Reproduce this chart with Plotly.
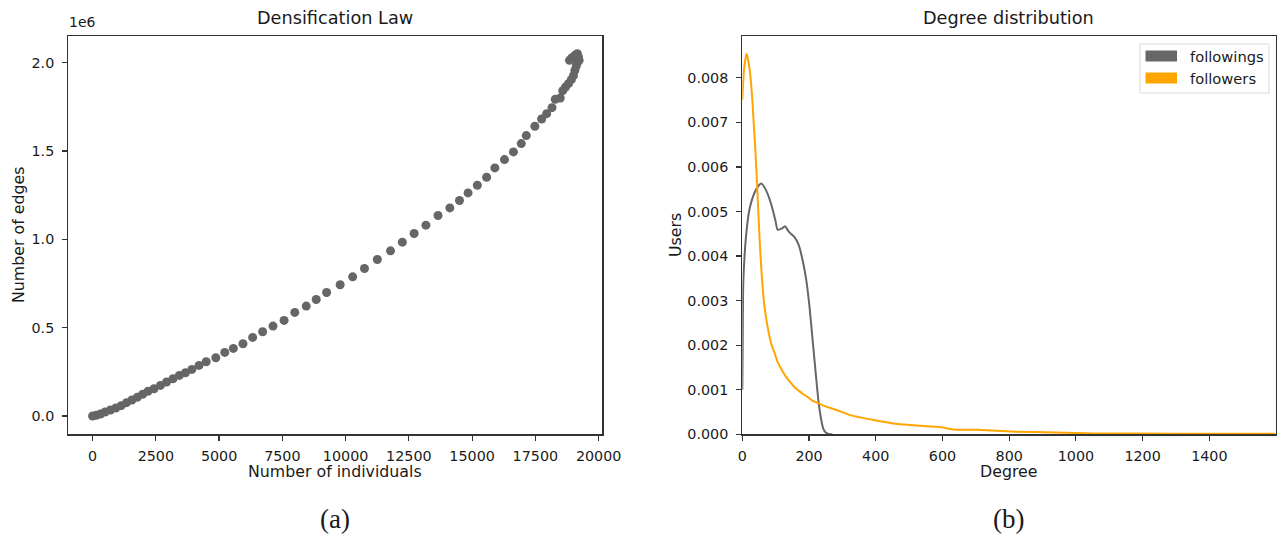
import plotly.graph_objects as go

# ---------------- data ----------------
individuals = [0, 141, 311, 494, 706, 918, 1130, 1341, 1553, 1765,
               1977, 2189, 2429, 2683, 2923, 3177, 3431, 3671, 3925, 4208,
               4490, 4871, 5224, 5563, 5944, 6326, 6721, 7131, 7568, 7992,
               8444, 8839, 9249, 9785, 10279, 10745, 11254, 11776, 12242, 12708,
               13174, 13654, 14120, 14501, 14840, 15207, 15574, 15899, 16280, 16633,
               16944, 17142, 17481, 17749, 17947, 18158, 18285, 18483, 18582, 18695,
               18808, 18921, 19006, 19062, 19118, 19175, 19203, 19161, 18850, 19231,
               19062, 18949]
edges = [0, 3770, 11310, 22620, 33930, 45240, 58440, 75400, 90480, 105560,
         122530, 139490, 154570, 173420, 192270, 211120, 229970, 245050, 263900, 286520,
         307260, 329880, 360040, 382660, 409050, 444860, 476910, 508950, 541000, 586240,
         622050, 659750, 699340, 742690, 787930, 835060, 885950, 934960, 983970, 1032980,
         1080110, 1134770, 1178130, 1219600, 1262950, 1306310, 1351550, 1404330, 1451450, 1494810,
         1541930, 1587170, 1639950, 1681420, 1711580, 1745510, 1792640, 1800180, 1841650, 1862380,
         1881230, 1903850, 1926470, 1956630, 1981140, 2003760, 2032030, 2050880, 2013180, 2013180,
         2041460, 2028270]

followings_deg = [0, 1, 3, 11, 21, 36, 51, 57, 71, 86, 99, 106, 119, 128, 139, 156, 169,
                  181, 191, 201, 211, 221, 229, 236, 243, 250, 258, 270]
followings_den = [0.0010, 0.0018, 0.0034, 0.00443, 0.00503, 0.00541, 0.0056, 0.00563, 0.00548,
                  0.00518, 0.00481, 0.00459, 0.00462, 0.00467, 0.00455, 0.00443, 0.00425,
                  0.0039, 0.0035, 0.0029, 0.0021, 0.0013, 0.0007, 0.00035, 0.00012,
                  0.00004, 0.00001, 0.0]

followers_deg = [0, 6, 13, 22, 30, 34, 39, 45, 51, 58, 66, 75, 86, 98, 106, 122, 131, 146,
                 156, 169, 181, 199, 211, 228, 241, 281, 323, 394, 465, 536, 595, 631, 702,
                 820, 938, 1057, 1293, 1599]
followers_den = [0.00751, 0.00825, 0.00854, 0.00819, 0.00751, 0.0070, 0.0064, 0.0055, 0.0045,
                 0.0036, 0.0029, 0.00245, 0.00205, 0.0018, 0.00162, 0.0014, 0.00129, 0.00115,
                 0.00106, 0.00098, 0.00091, 0.00082, 0.00075, 0.0007, 0.00065, 0.00055,
                 0.00043, 0.00032, 0.00023, 0.00019, 0.00016, 0.00011, 0.0001,
                 0.00006, 0.00004, 0.00002, 0.000015, 0.00001]

left_xticks = [0, 2500, 5000, 7500, 10000, 12500, 15000, 17500, 20000]
left_xticktext = ["0", "2500", "5000", "7500", "10000", "12500", "15000", "17500", "20000"]
left_yticks = [0, 500000, 1000000, 1500000, 2000000]
left_yticktext = ["0.0", "0.5", "1.0", "1.5", "2.0"]
right_xticks = [0, 200, 400, 600, 800, 1000, 1200, 1400]
right_yticks = [0, 0.001, 0.002, 0.003, 0.004, 0.005, 0.006, 0.007, 0.008]

series_names = ["followings", "followers"]
GREY = "#666666"
ORANGE = "#FFA500"

W, H = 1284, 534
def px(x):
    return x / W
def py(y):
    return 1 - y / H

FONT = "DejaVu Sans"
TXT = "#1a1a1a"
AX = "#333333"

fig = go.Figure()
fig.add_trace(go.Scatter(x=individuals, y=edges, mode="markers",
                         marker=dict(color=GREY, size=9, line=dict(width=0)),
                         xaxis="x", yaxis="y", showlegend=False))
fig.add_trace(go.Scatter(x=followings_deg, y=followings_den, mode="lines",
                         line=dict(color=GREY, width=2, shape="spline", smoothing=0.6),
                         xaxis="x2", yaxis="y2", name=series_names[0], showlegend=False))
fig.add_trace(go.Scatter(x=followers_deg, y=followers_den, mode="lines",
                         line=dict(color=ORANGE, width=2, shape="spline", smoothing=0.6),
                         xaxis="x2", yaxis="y2", name=series_names[1], showlegend=False))

axis_common = dict(showline=True, mirror=True, linecolor=AX, linewidth=1.2,
                   ticks="outside", ticklen=5, tickwidth=1.2, tickcolor=AX,
                   showgrid=False, zeroline=False, automargin=False,
                   tickfont=dict(family=FONT, size=14.3, color=TXT))

yd = [py(434.3), py(36)]
fig.update_layout(
    width=W, height=H, margin=dict(l=0, r=0, t=0, b=0, pad=0, autoexpand=False),
    paper_bgcolor="white", plot_bgcolor="white", hovermode=False,
    xaxis=dict(domain=[px(68.3), px(602.3)], range=[-960, 20146],
               tickvals=left_xticks, ticktext=left_xticktext, anchor="y",
               ticklabelstandoff=3, **axis_common),
    yaxis=dict(domain=yd, range=[-103500, 2151000], tickvals=left_yticks,
               ticktext=left_yticktext, anchor="x", ticklabelstandoff=5, **axis_common),
    xaxis2=dict(domain=[px(742.3), px(1275.7)], range=[0, 1599],
                tickvals=right_xticks, anchor="y2", ticklabelstandoff=3, **axis_common),
    yaxis2=dict(domain=yd, range=[0, 0.00894], tickvals=right_yticks,
                tickformat=".3f", anchor="x2", ticklabelstandoff=5, **axis_common),
)

ann = []
def text(t, x, y, size=14, family=FONT, xanchor="center", yanchor="middle", angle=0):
    ann.append(dict(text=t, x=px(x), y=py(y), xref="paper", yref="paper",
                    showarrow=False, xanchor=xanchor, yanchor=yanchor, textangle=angle,
                    font=dict(family=family, size=size, color=TXT)))

text("Densification Law", 335, 18, size=17.7)
text("Degree distribution", 1009, 18, size=17.7)
text("1e6", 67, 32, size=14, xanchor="left", yanchor="bottom")
text("Number of individuals", 335, 471, size=15.8)
text("Degree", 1009, 471, size=15.8)
text("Number of edges", 18, 235, size=15.8, angle=-90)
text("Users", 675, 235, size=15.8, angle=-90)
text("(a)", 335, 519, size=27, family="Liberation Serif")
text("(b)", 1009, 519, size=27, family="Liberation Serif")

# legend (manual, patch style)
shapes = [dict(type="rect", xref="paper", yref="paper",
               x0=px(1140), x1=px(1269), y0=py(93), y1=py(44),
               line=dict(color="#d9d9d9", width=1), fillcolor="rgba(255,255,255,0.8)")]
for i, (name, col) in enumerate(zip(series_names, [GREY, ORANGE])):
    yc = 56 + 22 * i
    shapes.append(dict(type="rect", xref="paper", yref="paper",
                       x0=px(1145.5), x1=px(1177), y0=py(yc + 5.5), y1=py(yc - 5.5),
                       line=dict(width=0), fillcolor=col))
    text(name, 1187.5, yc, size=14.7, xanchor="left")

fig.update_layout(annotations=ann, shapes=shapes)
fig.write_html("out.html", config={"displayModeBar": False, "staticPlot": True},
               post_script="document.body.style.margin='0px';")
